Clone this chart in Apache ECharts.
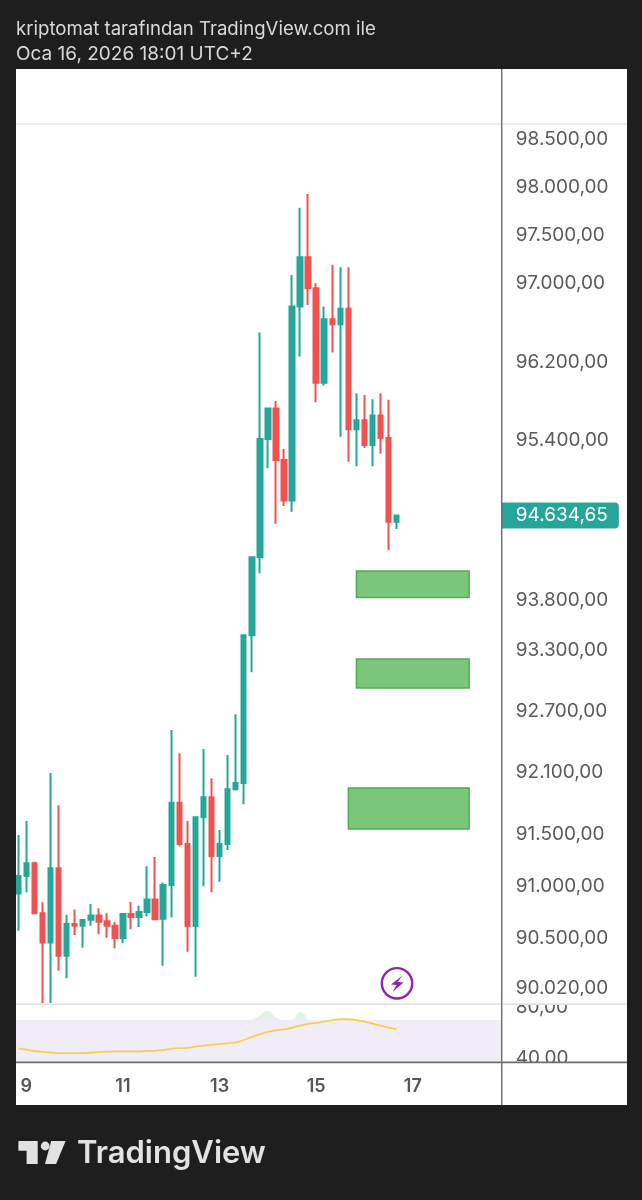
<!DOCTYPE html>
<html>
<head>
<meta charset="utf-8">
<style>html,body{margin:0;padding:0;background:#1e1e1e}#c{width:642px;height:1200px}</style>
<script src="https://cdn.jsdelivr.net/npm/echarts@6/dist/echarts.min.js"></script>
</head>
<body>
<div id="c"></div>
<script>
const opens  = [90919,91086,91209,90727,90448,91161,90320,90624,90608,90665,90707,90650,90608,90489,90720,90691,90739,90861,90675,90999,91798,91396,90605,91656,91850,91280,91396,91928,91990,93441,94217,95406,95714,95194,94785,96755,97262,96943,95978,96626,96575,96732,95505,95596,95345,95643,95416,94573];
const closes = [91086,91209,90727,90448,91161,90320,90624,90608,90662,90707,90646,90608,90489,90720,90691,90739,90861,90669,90999,91798,91396,90605,91656,91850,91280,91396,91928,91990,93441,94217,95406,95714,95194,94785,96755,97262,96943,95978,96626,96575,96732,95505,95596,95345,95643,95416,94573,94634.65];
const lows   = [90559,90929,90727,89869,89869,90177,90104,90518,90397,90608,90525,90492,90391,90439,90573,90595,90698,90665,90225,90688,91374,90358,90119,90989,90929,91031,91338,91915,91782,93075,94057,95110,94553,94731,94673,96243,96772,95779,95948,96284,95429,95177,95130,95315,95130,95257,94287,94500];
const highs  = [91484,91620,91225,90833,92086,91772,90713,90765,90669,90816,90775,90727,90643,90727,90835,90800,91180,91270,91025,92507,92279,91620,91656,92321,92035,91532,92262,92661,93441,94217,96489,95714,95792,95305,97080,97773,97917,96995,96755,97186,97160,97160,95871,95853,95810,95871,95803,94634.65];
const rsiValues = [46.7,45.7,44.7,44.1,43.5,43.1,43.1,43.1,43.1,43.4,43.9,44.2,44.3,44.4,44.4,44.5,44.7,45.0,45.4,46.4,46.9,47.2,48.1,48.9,49.5,50.2,50.8,51.5,53.3,55.7,58.0,59.8,60.9,61.6,62.9,64.6,65.9,66.7,67.8,69.0,69.6,69.6,68.9,67.8,66.2,64.6,63.1,61.6];
const rsiGlowIdx = [29,30,31,32,33,34,35,36];
const rsiGlow    = [69,72.5,76,71,69,69.2,75.5,69];
const priceTicks = [98500,98000,97500,97000,96200,95400,93800,93300,92700,92100,91500,91000,90500,90020];
const rsiTicks = [80,40];
const lastPrice = 94634.65;
const dayIndex = [1,13,25,37,49];
const dayNames = ['9','11','13','15','17'];
const zoneLow  = [93817,92920,91542];
const zoneHigh = [94080,93206,91941];
const zoneFrom = [42,42,41];
const zoneTo   = [56,56,56];

const FONT = 'Inter, Roboto, sans-serif';
const DARK = '#1e1e1e';
const categories = Array.from({length:61},(_, i)=>{const k=dayIndex.indexOf(i);return k>=0?dayNames[k]:'';});
const candles = opens.map((o,i)=>[o,closes[i],lows[i],highs[i]]);
const fmt = v => v.toLocaleString('de-DE',{minimumFractionDigits:2,maximumFractionDigits:2});
const GL = 14.3, GW = 491.05;

const chart = echarts.init(document.getElementById('c'),null,{width:642,height:1200});
const axisOff = {axisLine:{show:false},axisTick:{show:false},splitLine:{show:false},axisLabel:{show:false}};
const hidden = {color:'rgba(0,0,0,0)',opacity:1};
const tickLabel = {show:true,position:'right',distance:14,offset:[0,1],color:'#5a5a5a',fontFamily:FONT,fontSize:19,formatter:p=>fmt(p.value[1])};

const rect=(x,y,w,h,fill,z)=>({type:'rect',shape:{x,y,width:w,height:h},style:{fill},z,silent:true});
const graphics=[
  rect(16,69,611,1036,'#ffffff',-10),
  rect(0,69,16,1036,DARK,100),
  rect(627,69,15,1036,DARK,100),
  rect(16,123.5,611,1,'#dcdcdc',101),
  rect(502,996,125,8,'#ffffff',100),
  rect(16,1003.2,611,1.8,'#e2e3ea',101),
  rect(502,1063,125,42,'#ffffff',100),
  rect(16,1061.6,611,1.6,'#6c6c6c',101),
  rect(501,69,1.4,1036,'#6a6a78',101),
  {type:'circle',shape:{cx:397,cy:983.3,r:15.2},style:{fill:'#fff',stroke:'#8e24aa',lineWidth:2.4},z:60,silent:true},
  {type:'polygon',shape:{points:[[402.5,975.5],[391,984.6],[396.6,985],[392.5,992],[403.5,982.5],[397.6,982]]},style:{fill:'#8e24aa'},z:61,silent:true},
  {type:'text',x:16,y:29,style:{text:'kriptomat tarafından TradingView.com ile',fill:'#d9d9d9',font:'18.6px '+FONT,textVerticalAlign:'middle'},z:110},
  {type:'text',x:16,y:54,style:{text:'Oca 16, 2026 18:01 UTC+2',fill:'#d9d9d9',font:'19px '+FONT,textVerticalAlign:'middle'},z:110},
  {type:'polygon',shape:{points:[[18.4,1141],[37.7,1141],[37.7,1164],[26.6,1164],[26.6,1150.7],[18.4,1150.7]]},style:{fill:'#e2e2e2'},z:110,silent:true},
  {type:'circle',shape:{cx:45.2,cy:1146,r:4.4},style:{fill:'#e2e2e2'},z:110,silent:true},
  {type:'polygon',shape:{points:[[51.2,1141],[65.6,1141],[56.1,1164],[45,1164]]},style:{fill:'#e2e2e2'},z:110,silent:true},
  {type:'text',x:77,y:1154,style:{text:'TradingView',fill:'#e2e2e2',font:'600 31px '+FONT,textVerticalAlign:'middle'},z:110}
];

chart.setOption({
  animation:false,
  backgroundColor:DARK,
  graphic:{elements:graphics},
  grid:[
    {left:GL,width:GW,top:69,height:935,containLabel:false},
    {left:GL,width:GW,top:1005,height:57,containLabel:false}
  ],
  xAxis:[
    {type:'category',gridIndex:0,data:categories,boundaryGap:true,...axisOff},
    {type:'category',gridIndex:1,data:categories,boundaryGap:true,axisLine:{show:false},axisTick:{show:false},splitLine:{show:false},
     axisLabel:{show:true,interval:0,margin:16,color:'#555',fontFamily:FONT,fontWeight:600,fontSize:18}}
  ],
  yAxis:[
    {type:'log',gridIndex:0,min:89859,max:99223,...axisOff},
    {type:'value',gridIndex:1,min:36.08,max:80.78,...axisOff}
  ],
  series:[
    {type:'candlestick',xAxisIndex:0,yAxisIndex:0,data:candles,barWidth:5,z:3,
     itemStyle:{color:'#26a69a',color0:'#ef5350',borderColor:'#26a69a',borderColor0:'#ef5350',borderWidth:2},
     markArea:{silent:true,z:2,
       itemStyle:{color:'#7cc67c',borderColor:'#4caf50',borderWidth:1.5},
       data:zoneLow.map((l,i)=>[{coord:[zoneFrom[i],zoneHigh[i]]},{coord:[zoneTo[i],l]}])}},
    {type:'scatter',xAxisIndex:0,yAxisIndex:0,symbolSize:1,itemStyle:hidden,z:20,
     data:priceTicks.map(v=>[60,v]),label:tickLabel},
    {type:'scatter',xAxisIndex:0,yAxisIndex:0,symbolSize:1,itemStyle:hidden,z:20,
     data:[[60,lastPrice]],
     label:{show:true,position:'right',distance:0,color:'#fff',fontFamily:FONT,fontSize:19,backgroundColor:'#26a69a',
            borderRadius:[0,4,4,0],padding:[4,9,4,14],width:94,height:18,lineHeight:18,formatter:p=>fmt(p.value[1])}},
    {type:'line',xAxisIndex:1,yAxisIndex:1,data:rsiValues,showSymbol:false,symbol:'none',z:4,smooth:0.2,
     lineStyle:{color:'#f5cf55',width:1.8},
     markArea:{silent:true,z:1,itemStyle:{color:'#f0edf7'},
       data:[[{yAxis:69,x:16},{yAxis:36.08,x:501}]]}},
    {type:'line',xAxisIndex:1,yAxisIndex:1,data:rsiGlow.map((v,i)=>[rsiGlowIdx[i],v]),
     showSymbol:false,symbol:'none',smooth:0.5,z:2,
     lineStyle:{width:0},areaStyle:{color:'#e3f1e8',origin:69,opacity:1}},
    {type:'scatter',xAxisIndex:1,yAxisIndex:1,symbolSize:1,itemStyle:hidden,z:20,clip:false,
     data:rsiTicks.map(v=>[60,v]),label:tickLabel}
  ]
});
</script>
</body>
</html>
